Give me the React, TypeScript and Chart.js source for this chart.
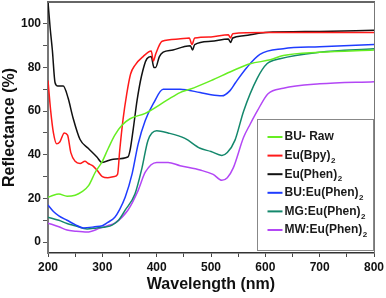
import { useEffect, useRef } from "react";
import { Chart, registerables } from "chart.js";

Chart.register(...registerables);

// ---------- data ----------
const rawX = [200, 210, 220, 235, 250, 262, 275, 287, 300, 311, 323, 336, 351, 379, 419, 443, 461, 500, 540, 572, 609, 633, 700, 800];
const rawY = [20.5, 21.5, 22, 21, 21.5, 23, 26, 32, 37, 43, 49, 53.5, 56.5, 59, 65, 68.5, 70, 74, 78.5, 81.7, 83.5, 85.5, 87, 88];

const bpyX = [200, 205, 210, 216, 222, 230, 236, 242, 250, 259, 268, 274, 282, 290, 300, 310, 322, 328, 332, 338, 345, 352, 360, 375, 390, 394, 398, 410, 440, 460, 465, 470, 500, 532, 536, 540, 600, 700, 800];
const bpyY = [74, 60, 50, 45, 46, 50, 49, 41, 37, 36, 37, 36, 35, 33, 30, 29.5, 30, 31, 42, 56, 68, 77, 81, 85, 87.5, 83, 86, 92, 93, 93.5, 90.5, 93.5, 94, 95, 93.5, 95.5, 96, 96, 96];

const phenX = [200, 204, 208, 213, 218, 228, 237, 246, 259, 274, 290, 299, 320, 347, 351, 357, 364, 372, 382, 390, 395, 398, 405, 412, 430, 450, 462, 466, 470, 500, 532, 536, 540, 560, 600, 700, 800];
const phenY = [110, 98, 88, 73, 71.5, 71.5, 66, 57, 47, 43, 39, 36.5, 38, 39, 42, 52, 65, 76, 84, 85, 80, 80, 85, 87, 88, 89.5, 90, 88, 90.5, 92, 93, 91.5, 93.5, 94.5, 96, 96.5, 97];

const buX = [200, 210, 220, 235, 250, 265, 286, 300, 310, 323, 332, 342, 355, 366, 379, 394, 412, 443, 480, 500, 520, 535, 545, 566, 590, 633, 700, 800];
const buY = [17, 14, 12, 10, 8, 6.5, 7, 7.5, 9, 11.4, 15, 20.5, 31.5, 45, 55.7, 63.5, 70, 70, 68.5, 67.5, 67, 69.4, 73, 80, 86, 88.6, 89.5, 90.5];

const mgX = [200, 220, 235, 250, 272, 290, 308, 318, 330, 342, 360, 373, 384, 400, 421, 452, 480, 500, 520, 530, 544, 560, 585, 603, 627, 700, 800];
const mgY = [11.4, 10, 8.5, 7.5, 6, 6.5, 7, 7.8, 10, 14.6, 22, 34, 46.6, 51, 50, 47.5, 43, 41.5, 39.7, 41, 46.6, 60, 75, 81.7, 84, 87, 88.6];

const mwX = [200, 220, 235, 250, 272, 296, 310, 323, 347, 366, 379, 400, 421, 443, 480, 504, 520, 530, 541, 560, 572, 585, 605, 633, 700, 800];
const mwY = [8.7, 7, 5.5, 5, 4.6, 6.4, 7.5, 8.7, 14.6, 23.7, 32, 36.5, 36.5, 35, 33, 31, 28.3, 29.5, 34, 48, 54, 60, 68, 70.5, 72.5, 73.5];

const legendNames = ["BU- Raw", "Eu(Bpy)", "Eu(Phen)", "BU:Eu(Phen)", "MG:Eu(Phen)", "MW:Eu(Phen)"];
const legendSubs = ["", "2", "2", "2", "2", "2"];
const colors = ["#66ee22", "#ff1a1a", "#111111", "#1f3cff", "#14886c", "#b347f5"];

const xTickValues = [200, 250, 300, 350, 400, 450, 500, 550, 600, 650, 700, 750, 800];
const yTickValues = [0, 10, 20, 30, 40, 50, 60, 70, 80, 90, 100];

const FONT = "'Liberation Sans', Arial, sans-serif";

function pts(xs: number[], ys: number[]) {
  return xs.map((x, i) => ({ x, y: ys[i] }));
}

const seriesX = [rawX, bpyX, phenX, buX, mgX, mwX];
const seriesY = [rawY, bpyY, phenY, buY, mgY, mwY];

const framePlugin = {
  id: "frameLegend",
  afterDraw(chart: any) {
    const { ctx, chartArea } = chart;
    const { left, right, top, bottom } = chartArea;
    ctx.save();
    // top & right frame
    ctx.strokeStyle = "#666";
    ctx.lineWidth = 2;
    ctx.beginPath();
    ctx.moveTo(left - 1, top);
    ctx.lineTo(right + 1, top);
    ctx.stroke();
    ctx.lineWidth = 1;
    ctx.strokeStyle = "#777";
    ctx.beginPath();
    ctx.moveTo(right + 0.5, top);
    ctx.lineTo(right + 0.5, bottom);
    ctx.stroke();

    // legend box
    const bx = Math.round(left + (right - left) * 0.64) + 0.5;
    const by = Math.round(top + (bottom - top) * 0.467) + 0.5;
    const bw = right - bx - 0.5;
    const bh = Math.round((bottom - top) * 0.52);
    ctx.fillStyle = "#fff";
    ctx.fillRect(bx, by, bw, bh);
    ctx.strokeStyle = "#888";
    ctx.lineWidth = 1;
    ctx.strokeRect(bx, by, bw, bh);

    const rowH = 18.6;
    const y0 = by + 17.5;
    legendNames.forEach((name, i) => {
      const y = y0 + i * rowH;
      ctx.strokeStyle = colors[i];
      ctx.lineWidth = 2;
      ctx.beginPath();
      ctx.moveTo(bx + 10, y);
      ctx.lineTo(bx + 25, y);
      ctx.stroke();
      ctx.fillStyle = "#1a1a1a";
      ctx.textBaseline = "middle";
      ctx.textAlign = "left";
      ctx.font = `bold 12px ${FONT}`;
      ctx.fillText(name, bx + 27, y);
      const w = ctx.measureText(name).width;
      if (legendSubs[i]) {
        ctx.font = `bold 8px ${FONT}`;
        ctx.fillText(legendSubs[i], bx + 27 + w + 0.5, y + 5);
      }
    });
    ctx.restore();
  },
};

export default function App() {
  const ref = useRef<HTMLCanvasElement | null>(null);

  useEffect(() => {
    document.body.style.margin = "0";
    const canvas = ref.current;
    if (!canvas) return;
    const chart = new Chart(canvas, {
      type: "line",
      data: {
        datasets: legendNames.map((name, i) => ({
          label: name + (legendSubs[i] ? "₂" : ""),
          data: pts(seriesX[i], seriesY[i]),
          borderColor: colors[i],
          backgroundColor: colors[i],
          borderWidth: 1.5,
          pointRadius: 0,
          cubicInterpolationMode: "monotone" as const,
          fill: false,
        })),
      },
      options: {
        animation: false,
        responsive: false,
        devicePixelRatio: 1,
        layout: { padding: { top: 2, right: 12, left: 0, bottom: 0 } },
        plugins: { legend: { display: false }, tooltip: { enabled: false } },
        scales: {
          x: {
            type: "linear",
            min: 200,
            max: 800,
            afterBuildTicks: (s: any) => {
              s.ticks = xTickValues.map((v) => ({ value: v }));
            },
            afterFit: (s: any) => {
              s.height = 45;
              s.paddingLeft = 0;
              s.paddingRight = 0;
            },
            ticks: {
              autoSkip: false,
              maxRotation: 0,
              padding: 3,
              color: "#111",
              font: { family: FONT, size: 12, weight: "bold" },
              callback: (v: any) => (Number(v) % 100 === 0 ? String(v) : ""),
            },
            grid: { drawOnChartArea: false, drawTicks: true, tickLength: 4, color: "#444" },
            border: { color: "#333", width: 1.5 },
            title: {
              display: true,
              text: "Wavelength (nm)",
              color: "#111",
              font: { family: FONT, size: 16, weight: "bold" },
              padding: { top: 0, bottom: 4 },
            },
          },
          y: {
            type: "linear",
            min: -5,
            max: 110,
            afterBuildTicks: (s: any) => {
              s.ticks = yTickValues.map((v) => ({ value: v }));
            },
            afterFit: (s: any) => {
              s.width = 48;
              s.paddingTop = 0;
              s.paddingBottom = 0;
            },
            ticks: {
              autoSkip: false,
              padding: 2,
              color: "#111",
              font: { family: FONT, size: 12, weight: "bold" },
              callback: (v: any) => {
                const n = Number(v);
                return n % 20 === 0 ? String(n) : "";
              },
            },
            grid: { drawOnChartArea: false, drawTicks: true, tickLength: 5, color: "#555" },
            border: { color: "#777", width: 2 },
            title: {
              display: true,
              text: "Reflectance (%)",
              color: "#111",
              font: { family: FONT, size: 16, weight: "bold" },
              padding: { top: 0, bottom: 0 },
            },
          },
        },
      },
      plugins: [framePlugin],
    });
    return () => chart.destroy();
  }, []);

  return (
    <div style={{ width: 386, height: 298 }}>
      <canvas ref={ref} width={386} height={298} style={{ display: "block", width: 386, height: 298 }} />
    </div>
  );
}
